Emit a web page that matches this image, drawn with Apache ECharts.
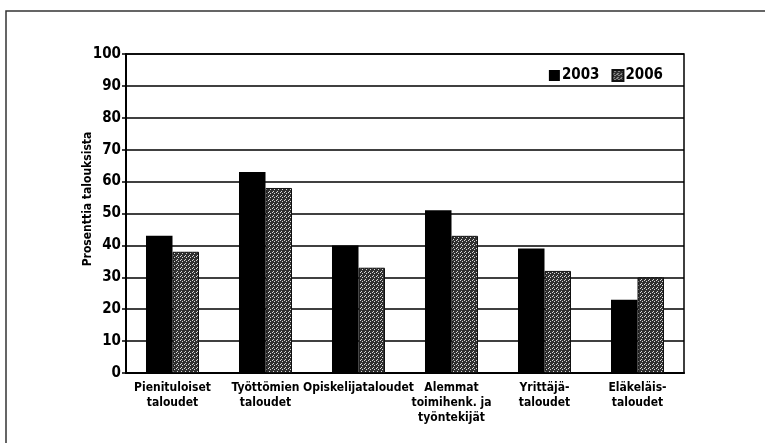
<!DOCTYPE html>
<html>
<head>
<meta charset="utf-8">
<script src="https://cdn.jsdelivr.net/npm/echarts@6/dist/echarts.min.js"></script>
<style>
    html, body { margin: 0; padding: 0; background: #fff; }
    #chart { width: 765px; height: 443px; }
</style>
</head>
<body>
<div id="chart"></div>
<script>
// kategoriat ja arvot (% talouksista)
var categories = [
    'Pienituloiset\ntaloudet',
    'Työttömien\ntaloudet',
    'Opiskelijataloudet',
    'Alemmat\ntoimihenk. ja\ntyöntekijät',
    'Yrittäjä-\ntaloudet',
    'Eläkeläis-\ntaloudet'
];
var years = ['2003', '2006'];
var values2003 = [43, 63, 40, 51, 39, 23];
var values2006 = [38, 58, 33, 43, 32, 30];
var yTicks = [0, 10, 20, 30, 40, 50, 60, 70, 80, 90, 100];

var FONT = '"DejaVu Sans Condensed", "Liberation Sans", Arial, sans-serif';

// rasteroitu harmaa kuvio 2006-pylväille
function makePattern() {
    var c = document.createElement('canvas');
    c.width = 4;
    c.height = 4;
    var ctx = c.getContext('2d');
    var px = [
        1, 0, 0, 0,
        0, 0, 1, 0,
        0, 0, 0, 0,
        0, 1, 0, 0
    ];
    for (var i = 0; i < 16; i++) {
        ctx.fillStyle = px[i] ? '#d8d8d8' : '#303030';
        ctx.fillRect(i % 4, Math.floor(i / 4), 1, 1);
    }
    return { image: c, repeat: 'repeat' };
}

var chart = echarts.init(document.getElementById('chart'));
var pattern = makePattern();

chart.setOption({
    backgroundColor: '#fff',
    animation: false,
    grid: {
        left: 126,
        right: 81,
        top: 54,
        bottom: 70,
        show: true,
        borderColor: '#000',
        borderWidth: 1.5
    },
    graphic: [
        {
            type: 'polyline',
            shape: { points: [[6, 443], [6, 11], [765, 11]] },
            style: { stroke: '#333', lineWidth: 1.5, fill: null }
        },
        {
            type: 'text',
            x: 88,
            y: 199,
            rotation: Math.PI / 2,
            style: {
                text: 'Prosenttia talouksista',
                font: 'bold 12px ' + FONT,
                fill: '#000',
                align: 'center',
                verticalAlign: 'middle'
            }
        }
    ],
    legend: {
        data: years,
        right: 97,
        top: 63,
        itemWidth: 11,
        itemHeight: 11,
        itemGap: 12,
        icon: 'rect',
        textStyle: { fontFamily: FONT, fontWeight: 'bold', fontSize: 15, color: '#000', padding: [0, 0, 0, -3] }
    },
    xAxis: {
        type: 'category',
        data: categories,
        axisLine: { lineStyle: { color: '#000', width: 2 } },
        axisTick: { show: false },
        axisLabel: {
            interval: 0,
            margin: 7,
            fontFamily: FONT,
            fontWeight: 'bold',
            fontSize: 12,
            lineHeight: 15,
            color: '#000'
        }
    },
    yAxis: {
        type: 'value',
        min: 0,
        max: 100,
        interval: 10,
        axisLine: { show: true, lineStyle: { color: '#000', width: 2 } },
        axisTick: { show: true, length: 4, lineStyle: { color: '#000', width: 1.5 } },
        axisLabel: {
            margin: 5,
            fontFamily: FONT,
            fontWeight: 'bold',
            fontSize: 15,
            color: '#000',
            formatter: function (v) { return yTicks.indexOf(v) >= 0 ? String(v) : ''; }
        },
        splitLine: { lineStyle: { color: '#000', width: 1.5 } }
    },
    series: [
        {
            name: years[0],
            type: 'bar',
            data: values2003,
            barGap: '0%',
            barCategoryGap: '43%',
            itemStyle: { color: '#000' }
        },
        {
            name: years[1],
            type: 'bar',
            data: values2006,
            itemStyle: { color: pattern, borderColor: '#111', borderWidth: 1 }
        }
    ]
});
</script>
</body>
</html>
